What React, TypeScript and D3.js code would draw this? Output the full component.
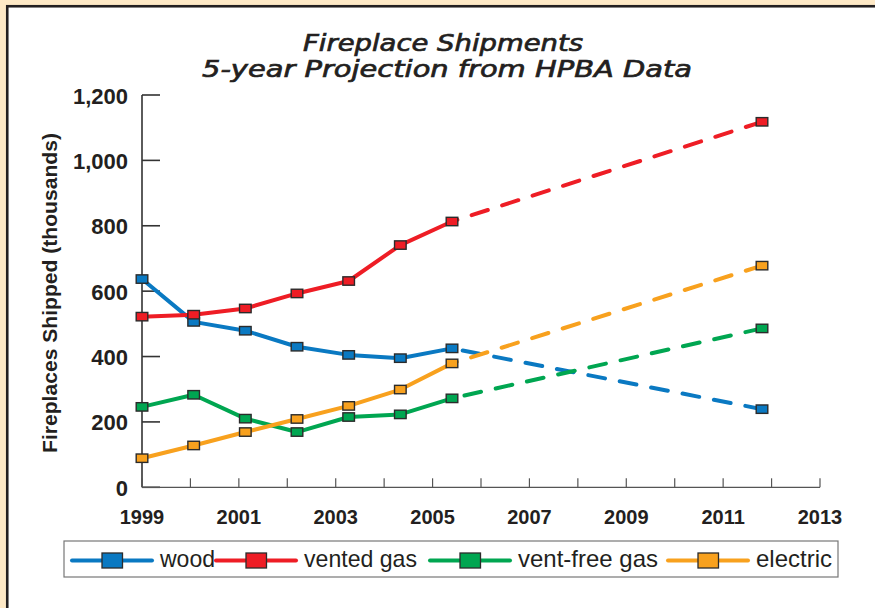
import React from "react";
import * as d3 from "d3";

// ---- data ----
const years = [1999, 2000, 2001, 2002, 2003, 2004, 2005];
const projectionYear = 2011;
const seriesNames = ["wood", "vented gas", "vent-free gas", "electric"];
const woodValues = [637, 506, 479, 430, 405, 395, 425];
const ventedGasValues = [522, 528, 547, 593, 631, 741, 813];
const ventFreeGasValues = [246, 283, 210, 169, 215, 223, 272];
const electricValues = [89, 128, 169, 209, 249, 299, 379];
const projectionValues = [239, 1118, 486, 678];
const yTicks = [0, 200, 400, 600, 800, 1000, 1200];
const xTicks = d3.range(1999, 2014);
const xTickLabels = [1999, 2001, 2003, 2005, 2007, 2009, 2011, 2013];

const colors = ["#0A79C2", "#EE1D25", "#00A651", "#F8A11E"];
const legendX = [72, 216, 430, 668];
const legendTextW = [55, 113, 140, 76];

const W = 875;
const H = 608;
const x0 = 142;
const yBottom = 487.3;
const yTop = 95;

export default function App() {
  const allValues = [woodValues, ventedGasValues, ventFreeGasValues, electricValues];
  const y = d3.scaleLinear().domain([0, 1200]).range([yBottom, yTop]);
  const xAxis = d3.scaleLinear().domain([1999, 2013]).range([x0, 820]);
  // data points in the source are spaced slightly wider than the axis years
  const xData = d3.scaleLinear().domain([1999, 2011]).range([x0, 762]);
  const line = d3
    .line<[number, number]>()
    .x((d) => xData(d[0]))
    .y((d) => y(d[1]));

  const fmt = d3.format(",");
  const axisColor = "#333";

  return (
    <svg
      width={W}
      height={H}
      style={{ position: "absolute", left: 0, top: 0, display: "block" }}
      fontFamily="'Liberation Sans', Arial, sans-serif"
    >
      <rect x={0} y={0} width={W} height={H} fill="#FEE9C6" />
      <rect x={7.25} y={6.25} width={W + 20} height={H + 20} fill="#fff" stroke="#231F20" strokeWidth={2.6} />

      {/* title */}
      <g
        fontFamily="'DejaVu Sans', sans-serif"
        fontStyle="italic"
        fontSize={23}
        fill="#231F20"
        stroke="#231F20"
        strokeWidth={0.7}
        textAnchor="middle"
      >
        <text x={443} y={50.5} textLength={280} lengthAdjust="spacingAndGlyphs">
          Fireplace Shipments
        </text>
        <text x={447} y={76.5} textLength={490} lengthAdjust="spacingAndGlyphs">
          5-year Projection from HPBA Data
        </text>
      </g>

      {/* y axis */}
      <line x1={x0} x2={x0} y1={yTop} y2={yBottom} stroke={axisColor} strokeWidth={1.6} />
      {yTicks.map((t) => (
        <g key={"yt" + t}>
          <line x1={x0} x2={x0 + 18} y1={y(t)} y2={y(t)} stroke={axisColor} strokeWidth={1.6} />
          <text
            x={128}
            y={y(t) + 8.5}
            textAnchor="end"
            fontWeight="bold"
            fontSize={22}
            fill="#231F20"
          >
            {fmt(t)}
          </text>
        </g>
      ))}
      <text
        transform={`translate(57,293) rotate(-90)`}
        textAnchor="middle"
        fontWeight="bold"
        fontSize={20.5}
        fill="#231F20"
        textLength={320}
        lengthAdjust="spacingAndGlyphs"
      >
        Fireplaces Shipped (thousands)
      </text>

      {/* x axis */}
      <line x1={x0} x2={xAxis(2013)} y1={yBottom} y2={yBottom} stroke="#555" strokeWidth={1.3} />
      {xTicks.map((t) => (
        <line key={"xt" + t} x1={xAxis(t)} x2={xAxis(t)} y1={yBottom} y2={yBottom - 9} stroke="#555" strokeWidth={1.2} />
      ))}
      {xTickLabels.map((t) => (
        <text key={"xl" + t} x={xAxis(t)} y={523.5} textAnchor="middle" fontWeight="bold" fontSize={20} fill="#231F20">
          {t}
        </text>
      ))}

      {/* lines */}
      {allValues.map((vals, i) => {
        const pts: [number, number][] = years.map((yr, j) => [yr, vals[j]]);
        const proj: [number, number][] = [
          [projectionYear, projectionValues[i]],
          [years[years.length - 1], vals[vals.length - 1]],
        ];
        return (
          <g key={"s" + i}>
            <path d={line(pts) || ""} fill="none" stroke={colors[i]} strokeWidth={4} strokeLinejoin="round" strokeLinecap="round" />
            <path
              d={line(proj) || ""}
              fill="none"
              stroke={colors[i]}
              strokeWidth={4}
              strokeLinecap="round"
              strokeDasharray="17 15"
            />
          </g>
        );
      })}
      {/* markers */}
      {allValues.map((vals, i) => {
        const pts: [number, number][] = years.map((yr, j) => [yr, vals[j]]);
        pts.push([projectionYear, projectionValues[i]]);
        return (
          <g key={"m" + i}>
            {pts.map((p, j) => (
              <rect
                key={j}
                x={xData(p[0]) - 5.8}
                y={y(p[1]) - 4.2}
                width={11.6}
                height={8.4}
                fill={colors[i]}
                stroke="#2B2B2B"
                strokeWidth={1.4}
              />
            ))}
          </g>
        );
      })}

      {/* legend */}
      <rect x={64} y={541} width={774} height={36} fill="#fff" stroke="#777" strokeWidth={1.2} />
      {seriesNames.map((name, i) => (
        <g key={"lg" + i}>
          <line x1={legendX[i]} x2={legendX[i] + 80} y1={560.5} y2={560.5} stroke={colors[i]} strokeWidth={4} strokeLinecap="round" />
          <rect x={legendX[i] + 30} y={553} width={20.5} height={15} fill={colors[i]} stroke="#2B2B2B" strokeWidth={1.3} />
          <text
            x={legendX[i] + 88}
            y={567}
            fontFamily="'Liberation Sans Narrow', 'Liberation Sans', Arial, sans-serif"
            fontSize={24}
            fill="#231F20"
            textLength={legendTextW[i]}
            lengthAdjust="spacingAndGlyphs"
          >
            {name}
          </text>
        </g>
      ))}
    </svg>
  );
}
